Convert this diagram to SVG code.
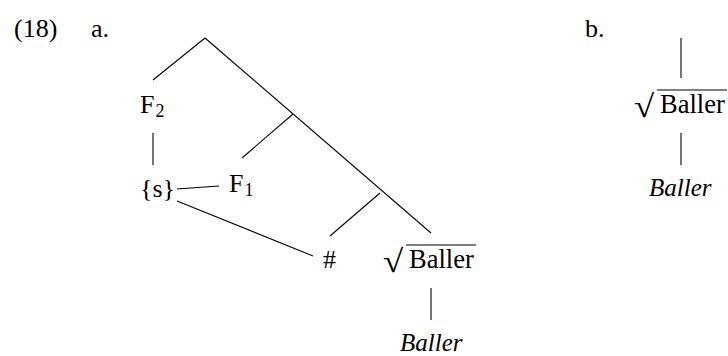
<svg xmlns="http://www.w3.org/2000/svg" width="728" height="356" viewBox="0 0 728 356" font-family="Liberation Serif, serif">
<style>
text{font-size:26px;fill:#000}
.sub{font-size:18px}
.it{font-style:italic;font-size:25px}
.rad{font-size:32px}
.bl{font-size:26.5px}
line{stroke:#000;stroke-width:1.1;fill:none}
</style>
<rect width="728" height="356" fill="#fff"/>
<g id="labels">
<text x="14" y="37">(18)</text>
<text x="91" y="37">a.</text>
<text x="585" y="37">b.</text>
</g>
<g id="connectors">
<line x1="205" y1="38" x2="153" y2="80"/>
<line x1="205" y1="38" x2="431" y2="233"/>
<line x1="293" y1="114" x2="242" y2="158"/>
<line x1="380" y1="193" x2="330" y2="236"/>
<line x1="153" y1="133" x2="153" y2="165"/>
<line x1="177" y1="189" x2="219" y2="186"/>
<line x1="177" y1="201" x2="313" y2="256"/>
<line x1="431" y1="288" x2="431" y2="320"/>
<line x1="681" y1="38" x2="681" y2="78"/>
<line x1="681" y1="133" x2="681" y2="165"/>
</g>
<g id="F2"><text x="140" y="113">F<tspan class="sub" dx="1" dy="4">2</tspan></text></g>
<g id="s"><text x="140" y="197">{s}</text></g>
<g id="F1"><text x="229" y="192">F<tspan class="sub" dx="1" dy="4">1</tspan></text></g>
<g id="hash"><text x="323" y="268">#</text></g>
<g id="rootA">
<text class="rad" transform="translate(383,272) scale(1.15,1)">√</text>
<line x1="406" y1="245" x2="476" y2="245"/>
<text class="bl" x="409" y="268">Baller</text>
</g>
<g id="BallerA"><text class="it" x="400" y="351">Baller</text></g>
<g id="rootB">
<text class="rad" transform="translate(634,117) scale(1.15,1)">√</text>
<line x1="657" y1="90" x2="727" y2="90"/>
<text class="bl" x="660" y="113">Baller</text>
</g>
<g id="BallerB"><text class="it" x="649" y="196">Baller</text></g>
</svg>
